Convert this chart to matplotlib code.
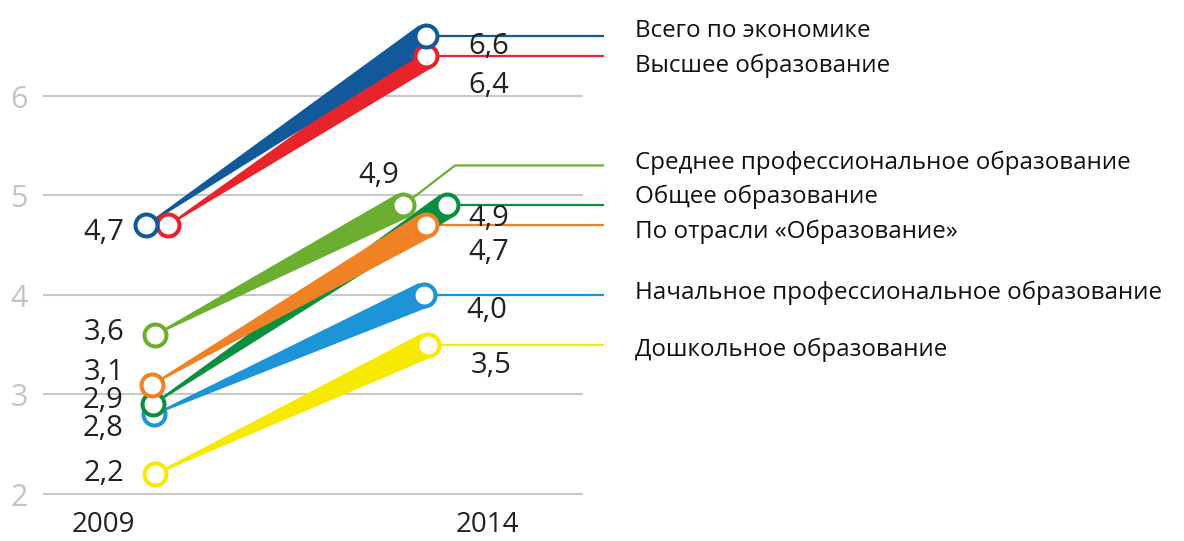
"""
Wage growth by education sector, 2009 -> 2014 (slope chart with wedge bands).
"""
import matplotlib
matplotlib.use("Agg")
import numpy as np
import matplotlib.pyplot as plt
from matplotlib.patches import Polygon

# ── data ─────────────────────────────────────────────
SERIES = [
    "Всего по экономике",
    "Высшее образование",
    "Среднее профессиональное образование",
    "Общее образование",
    "По отрасли «Образование»",
    "Начальное профессиональное образование",
    "Дошкольное образование",
]
V2009 = [4.7, 4.7, 3.6, 2.9, 3.1, 2.8, 2.2]
V2014 = [6.6, 6.4, 4.9, 4.9, 4.7, 4.0, 3.5]
YEARS = ["2009", "2014"]
Y_TICKS = [2, 3, 4, 5, 6]

# ── styling / layout (pixels) ────────────────────────
COLORS = ["#12599b", "#e8232b", "#6cae2f", "#0a8f3f", "#f08124", "#1d94d7", "#f7ea00"]
X_START = [146, 168, 155, 153, 152, 154, 155]     # circle x at 2009
X_END = [426, 426, 403, 447, 426, 424, 428]       # circle x at 2014
ELBOW = [0, 0, 40, 0, 0, 0, 0]                    # rise of connector before legend
LEFT_DY = [7, None, -2, -4, -12, 14, -1]          # 2009 label offset (px, down)
RIGHT_OFF = [(63, 10), (63, 29), (-24, -30), (42, 13), (63, 27), (63, 16), (63, 21)]
LEGEND_DY = [-5, 10, -3, -9, 6, -2, 5]
ORDER = [6, 5, 3, 4, 2, 1, 0]                     # draw order, back to front

W, H = 1184, 541
fig = plt.figure(figsize=(W / 100, H / 100), dpi=100)
ax = fig.add_axes([0, 0, 1, 1])
ax.set_xlim(0, W)
# 2 -> pixel 494, 99.5 px per unit
ax.set_ylim(2 - (H - 494) / 99.5, 2 + 494 / 99.5)
ax.axis("off")

VAL_FONT = ["Open Sans", "DejaVu Sans"]
px_per_unit = H / (ax.get_ylim()[1] - ax.get_ylim()[0])

# grid + y tick labels
ax.hlines(Y_TICKS, 43, 583, color="#c9c9c9", lw=1.5, zorder=0)
for t in Y_TICKS:
    ax.annotate(str(t), xy=(19, t), xytext=(0, -4), textcoords="offset pixels",
                ha="center", va="center", fontsize=22, color="#c4c4c4", family=VAL_FONT)

# year labels
for yr, xs in zip(YEARS, [103, 487]):
    ax.annotate(yr, xy=(xs, 0), xycoords=("data", "axes fraction"), xytext=(0, 30),
                textcoords="offset pixels", ha="center", va="top",
                fontsize=20, color="#222222", family=VAL_FONT)


def wedge(x0, v0, x1, v1, w0, w1, color, z):
    tr = ax.transData
    p0 = tr.transform((x0, v0))
    p1 = tr.transform((x1, v1))
    d = (p1 - p0) / np.hypot(*(p1 - p0))
    n = np.array([-d[1], d[0]])
    pts = np.array([p0 + n * w0, p1 + n * w1, p1 - n * w1, p0 - n * w0])
    ax.add_patch(Polygon(tr.inverted().transform(pts), closed=True,
                         fc=color, ec="none", zorder=z))


for k, i in enumerate(ORDER):
    c = COLORS[i]
    x0, x1 = X_START[i], X_END[i]
    v0, v1 = V2009[i], V2014[i]
    z = 2 + k * 0.1

    # connector to legend text
    v_el = v1 + ELBOW[i] / px_per_unit
    if ELBOW[i]:
        ax.plot([x1, 455, 604], [v1, v_el, v_el], color=c, lw=1.6, zorder=1,
                solid_capstyle="butt")
    else:
        ax.plot([x1, 604], [v1, v1], color=c, lw=1.6, zorder=1, solid_capstyle="butt")

    wedge(x0, v0, x1, v1, 0.8, 13, c, z)
    ax.scatter([x0, x1], [v0, v1], s=250, facecolor="white", edgecolor=c,
               linewidth=2.9, zorder=10 + k)

    # value labels
    if LEFT_DY[i] is not None:
        ax.annotate(f"{v0:.1f}".replace(".", ","), xy=(x0, v0),
                    xytext=(124 - x0, -LEFT_DY[i]), textcoords="offset pixels",
                    ha="right", va="center", fontsize=21, color="#222222", family=VAL_FONT)
    dx, dy = RIGHT_OFF[i]
    ax.annotate(f"{v1:.1f}".replace(".", ","), xy=(x1, v1), xytext=(dx, -dy),
                textcoords="offset pixels", ha="center", va="center",
                fontsize=21, color="#222222", family=VAL_FONT)

    # legend text
    ax.annotate(SERIES[i], xy=(604, v_el), xytext=(31, -LEGEND_DY[i]),
                textcoords="offset pixels", ha="left", va="center",
                fontsize=17.4, color="#111111", family=VAL_FONT)

fig.savefig("out.png", dpi=100, facecolor="white")
